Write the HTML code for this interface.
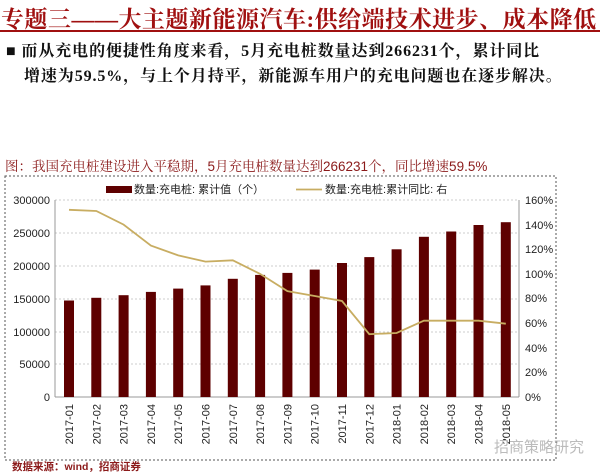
<!DOCTYPE html>
<html><head><meta charset="utf-8"><style>
body{margin:0;width:600px;height:472px;background:#fff;overflow:hidden;position:relative;font-family:"Liberation Sans","Noto Serif CJK SC","Noto Sans CJK SC",sans-serif}
.t{position:absolute;white-space:nowrap}
</style></head><body>
<div class="t" style="left:1px;top:1px;font-size:23px;color:#a01010;font-family:'Liberation Serif','Noto Serif CJK SC',serif;font-weight:bold;letter-spacing:0.5px">专题三——大主题新能源汽车:供给端技术进步、成本降低</div>
<div style="position:absolute;left:0;top:30px;width:600px;height:2px;background:#a01010"></div>
<div class="t" style="left:6px;top:38px;font-size:16px;color:#111;font-family:'Liberation Serif','Noto Serif CJK SC',serif;font-weight:bold;letter-spacing:0.9px">■ 而从充电的便捷性角度来看，5月充电桩数量达到266231个，累计同比</div>
<div class="t" style="left:24px;top:63px;font-size:16px;color:#111;font-family:'Liberation Serif','Noto Serif CJK SC',serif;font-weight:bold;letter-spacing:0.9px">增速为59.5%，与上个月持平，新能源车用户的充电问题也在逐步解决。</div>
<div class="t" style="left:5px;top:155px;font-size:13.5px;color:#8b1a1a">图：我国充电桩建设进入平稳期，5月充电桩数量达到266231个，同比增速59.5%</div>
<svg width="600" height="472" style="position:absolute;left:0;top:0" font-family="Liberation Sans, Noto Sans CJK SC, sans-serif">
<rect x="5" y="176" width="551" height="284" fill="none" stroke="#555" stroke-dasharray="2,2"/>
<g stroke="#ccc" stroke-dasharray="2,2">
<line x1="55" x2="519" y1="200" y2="200"/><line x1="55" x2="519" y1="233" y2="233"/><line x1="55" x2="519" y1="266" y2="266"/><line x1="55" x2="519" y1="299" y2="299"/><line x1="55" x2="519" y1="332" y2="332"/><line x1="55" x2="519" y1="364" y2="364"/></g>
<line x1="55" x2="55" y1="200" y2="397" stroke="#999"/>
<line x1="519" x2="519" y1="200" y2="397" stroke="#999"/>
<line x1="55" x2="519" y1="397" y2="397" stroke="#999"/>
<g font-size="11" fill="#222" text-anchor="end">
<text x="50" y="204">300000</text><text x="50" y="237">250000</text><text x="50" y="270">200000</text><text x="50" y="303">150000</text><text x="50" y="336">100000</text><text x="50" y="368">50000</text><text x="50" y="401">0</text></g>
<g font-size="11" fill="#222">
<text x="525" y="204">160%</text><text x="525" y="229">140%</text><text x="525" y="253">120%</text><text x="525" y="278">100%</text><text x="525" y="302">80%</text><text x="525" y="327">60%</text><text x="525" y="352">40%</text><text x="525" y="376">20%</text><text x="525" y="401">0%</text></g>
<g fill="#5e0000">
<rect x="64" y="300.5" width="10" height="96.5"/><rect x="91.3" y="297.8" width="10" height="99.2"/><rect x="118.6" y="295.2" width="10" height="101.8"/><rect x="145.9" y="291.9" width="10" height="105.1"/><rect x="173.2" y="288.6" width="10" height="108.4"/><rect x="200.5" y="285.4" width="10" height="111.6"/><rect x="227.8" y="278.8" width="10" height="118.2"/><rect x="255.1" y="274.9" width="10" height="122.1"/><rect x="282.4" y="272.9" width="10" height="124.1"/><rect x="309.7" y="269.6" width="10" height="127.4"/><rect x="337" y="263" width="10" height="134"/><rect x="364.3" y="257.1" width="10" height="139.9"/><rect x="391.6" y="249.3" width="10" height="147.7"/><rect x="418.9" y="236.8" width="10" height="160.2"/><rect x="446.2" y="231.5" width="10" height="165.5"/><rect x="473.5" y="225" width="10" height="172"/><rect x="500.8" y="222.2" width="10" height="174.8"/></g>
<polyline fill="none" stroke="#c8ad62" stroke-width="1.8" points="69,209.8 96.3,211 123.6,224.6 150.9,245.6 178.2,255.4 205.5,261.6 232.8,260.3 260.1,273.9 287.4,291.1 314.7,296 342,301 369.3,334.2 396.6,333 423.9,320.7 451.2,320.7 478.5,320.7 505.8,323.7"/>
<rect x="106" y="186" width="26" height="7" fill="#5e0000"/>
<text x="134" y="193" font-size="11" fill="#222">数量:充电桩: 累计值（个）</text>
<line x1="296" x2="322" y1="189.5" y2="189.5" stroke="#c8ad62" stroke-width="1.8"/>
<text x="325" y="193" font-size="11" fill="#222">数量:充电桩:累计同比: 右</text>
<g font-size="11" fill="#222" text-anchor="end">
<text transform="translate(73,404) rotate(-90)">2017-01</text><text transform="translate(100.3,404) rotate(-90)">2017-02</text><text transform="translate(127.6,404) rotate(-90)">2017-03</text><text transform="translate(154.9,404) rotate(-90)">2017-04</text><text transform="translate(182.2,404) rotate(-90)">2017-05</text><text transform="translate(209.5,404) rotate(-90)">2017-06</text><text transform="translate(236.8,404) rotate(-90)">2017-07</text><text transform="translate(264.1,404) rotate(-90)">2017-08</text><text transform="translate(291.4,404) rotate(-90)">2017-09</text><text transform="translate(318.7,404) rotate(-90)">2017-10</text><text transform="translate(346,404) rotate(-90)">2017-11</text><text transform="translate(373.3,404) rotate(-90)">2017-12</text><text transform="translate(400.6,404) rotate(-90)">2018-01</text><text transform="translate(427.9,404) rotate(-90)">2018-02</text><text transform="translate(455.2,404) rotate(-90)">2018-03</text><text transform="translate(482.5,404) rotate(-90)">2018-04</text><text transform="translate(509.8,404) rotate(-90)">2018-05</text></g>
<text x="494" y="452" font-size="15" fill="#bbb">招商策略研究</text>
<text x="12" y="470" font-size="10.5" fill="#8b1a1a" font-weight="bold">数据来源：wind，招商证券</text>
</svg>
</body></html>
